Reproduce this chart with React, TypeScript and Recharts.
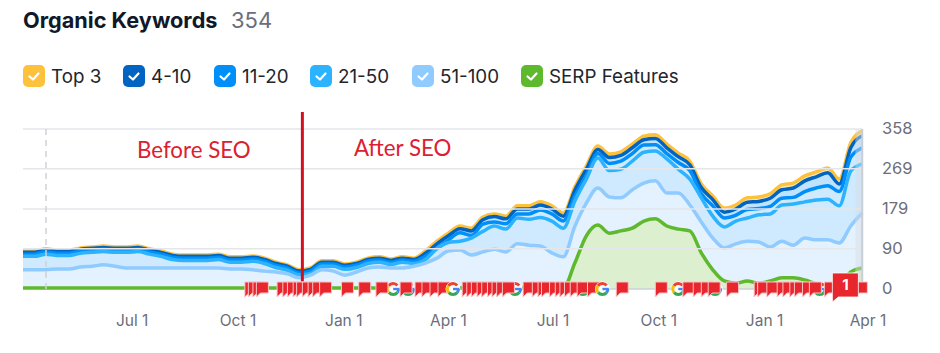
import React from "react";
import { ComposedChart, Area, XAxis, YAxis, ReferenceLine, ReferenceArea, ReferenceDot } from "recharts";

// Sampling: one reading every 10 days across the 730-day window
const stepDays = 10;
const top3Total = [
  85,85,90,87,87,92,94,96,94,94, 96,90,85,78,76,76,76,78,72,72,
  74,69,60,54,43,47,63,63,56,60, 69,72,67,72,69,85,107,125,141,136,
  161,168,163,186,186,195,186,170,228,275, 320,302,307,324,342,345,324,304,286,235,
  208,181,188,204,206,213,233,237,253,262, 271,246,327,354,
];
const pos4to10Total = [
  82,82,87,84,84,89,91,93,91,91, 93,87,82,75,73,73,73,75,69,69,
  71,66,57,51,40,44,60,60,53,57, 66,69,64,69,66,80,101,119,135,130,
  155,162,157,179,179,188,179,163,221,268, 312,294,299,316,334,337,316,296,278,227,
  200,172,179,194,196,203,222,226,242,251, 260,235,316,343,
];
const pos11to20Total = [
  78,78,83,80,80,85,87,89,87,87, 89,83,78,71,69,69,69,71,65,65,
  67,62,53,47,36,40,56,56,49,53, 62,65,60,65,62,73,92,110,126,120,
  145,150,146,168,168,177,168,152,208,253, 303,281,286,303,322,323,303,283,265,213,
  186,159,165,178,180,185,203,205,218,226, 231,218,295,316,
];
const pos21to50Total = [
  73,73,78,75,75,80,82,84,82,82, 84,78,73,66,64,64,64,66,60,60,
  62,57,48,42,32,35,51,51,44,48, 57,60,55,60,57,66,90,104,107,114,
  129,141,134,159,156,160,152,136,197,246, 293,265,268,286,306,309,291,268,246,204,
  163,139,152,159,166,168,188,190,195,199, 201,186,264,280,
];
const pos51to100Total = [
  43,43,43,45,45,49,51,54,51,47, 47,47,47,47,47,47,47,47,45,45,
  43,40,38,34,25,31,43,40,31,38, 47,49,47,47,51,58,69,85,87,76,
  83,89,83,101,98,96,81,72,140,192, 226,206,204,222,237,242,215,215,188,150,
  114,92,101,107,105,94,107,98,114,110, 110,103,141,170,
];
const serpFeatures = [
  2,2,2,2,2,2,2,2,2,2, 2,2,2,2,2,2,2,2,2,2,
  2,2,2,2,2,2,2,2,2,2, 2,2,2,2,2,2,2,2,2,2,
  2,2,2,2,2,2,2,2,58,119, 143,125,130,136,152,157,141,134,130,81,
  43,18,13,18,13,18,25,25,20,11, 4,10,38,47,
];

const yTicks = [0, 90, 179, 269, 358];
const gridValues = [90, 179, 269, 358];
const xTickDays = [95, 187, 279, 370, 461, 553, 645, 735];
const xTickLabels = ["Jul 1", "Oct 1", "Jan 1", "Apr 1", "Jul 1", "Oct 1", "Jan 1", "Apr 1"];
const lastDataDay = 730;
const baselineStartDay = 470;
const seoChangeDay = 243;
const dashedMarkerDay = 20;

const flagDays = [
  193,196,200,203, 221,226,230,235,238,243,248,252,258, 277, 292, 307,
  328,341,347,354,361, 382,386,390,395,399,404,408,412,417,
  435,443,448,451,458,463,467,471,476,482, 491, 516, 550,
  574,583,590,596, 612, 636,639,647,656,661,667,671,678,684, 697, 724,
];
const googleBehindDays = [322, 335, 428, 487, 570, 602, 693];
const googleFrontDays = [374, 504];
const noteDay = 704;
const noteCount = "1";

const legendItems = [
  { name: "Top 3", color: "#fdc13c", left: 23 },
  { name: "4-10", color: "#0065c2", left: 123 },
  { name: "11-20", color: "#008ff8", left: 214 },
  { name: "21-50", color: "#2bb3ff", left: 310 },
  { name: "51-100", color: "#8fcbff", left: 412 },
  { name: "SERP Features", color: "#5fb92c", left: 521 },
];

const rows = top3Total.map((t, i) => ({
  day: i * stepDays,
  b51: pos51to100Total[i],
  b21: pos21to50Total[i] - pos51to100Total[i],
  b11: pos11to20Total[i] - pos21to50Total[i],
  b4: pos4to10Total[i] - pos11to20Total[i],
  t3: t - pos4to10Total[i],
  serp: serpFeatures[i],
}));

const FONT = "Inter, 'Noto Sans', sans-serif";
const GREY = "#6c6e79";

const FlagShape = (p: any) => {
  const x = p.cx;
  const y = p.cy;
  return (
    <path
      d={`M${x},${y - 7} h12 v11 h-8 l-4,4 z`}
      fill="#e8262d"
      stroke="#f9c4c6"
      strokeWidth={1}
    />
  );
};

const GoogleShape = (p: any) => {
  const x = p.cx;
  const y = p.cy;
  const r = 5.5;
  const arc = (a0: number, a1: number, c: string) => {
    const ra = (d: number) => (d * Math.PI) / 180;
    const x0 = x + r * Math.cos(ra(a0));
    const y0 = y + r * Math.sin(ra(a0));
    const x1 = x + r * Math.cos(ra(a1));
    const y1 = y + r * Math.sin(ra(a1));
    return <path d={`M${x0},${y0} A${r},${r} 0 0 1 ${x1},${y1}`} fill="none" stroke={c} strokeWidth={3} />;
  };
  return (
    <g>
      <circle cx={x} cy={y} r={7.5} fill="#fff" />
      {arc(215, 320, "#ea4335")}
      {arc(140, 215, "#fbbc05")}
      {arc(40, 140, "#34a853")}
      {arc(0, 40, "#4285f4")}
      <path d={`M${x},${y} h${r + 1}`} stroke="#4285f4" strokeWidth={2.4} />
    </g>
  );
};

const NoteShape = (p: any) => {
  const x = p.cx;
  const y = p.cy;
  return (
    <g>
      <path d={`M${x},${y - 16} h26 v24 h-20 l-6,5 z`} fill="#e8262d" stroke="#fff" strokeWidth={0.8} />
      <text x={x + 13} y={y + 1} textAnchor="middle" fontFamily={FONT} fontSize={15} fontWeight={700} fill="#fff">
        {noteCount}
      </text>
    </g>
  );
};

const Check = () => (
  <svg width={22} height={22} style={{ display: "block" }}>
    <path d="M6.5 11.5 L10 14.5 L15.5 8.5" fill="none" stroke="#fff" strokeWidth={2.2} strokeLinecap="round" strokeLinejoin="round" />
  </svg>
);

export default function App() {
  return (
    <div style={{ position: "absolute", left: 0, top: 0, width: 940, height: 353, background: "#fff", overflow: "hidden", fontFamily: FONT }}>
      <div style={{ position: "absolute", left: 23, top: 6, fontSize: 21.7, fontWeight: 700, lineHeight: "28px", color: "#111827", whiteSpace: "nowrap" }}>
        Organic Keywords
      </div>
      <div style={{ position: "absolute", left: 231, top: 6, fontSize: 22, lineHeight: "28px", color: GREY }}>354</div>
      {legendItems.map((it) => (
        <div key={it.name} style={{ position: "absolute", left: it.left, top: 65, height: 22, display: "flex", alignItems: "center", whiteSpace: "nowrap" }}>
          <div style={{ width: 22, height: 22, borderRadius: 5, background: it.color }}>
            <Check />
          </div>
          <span style={{ marginLeft: 6, fontSize: 18.8, color: "#22252b" }}>{it.name}</span>
        </div>
      ))}
      <div style={{ position: "absolute", left: 0, top: 0 }}>
        <ComposedChart
          width={940}
          height={353}
          data={rows}
          reverseStackOrder
          margin={{ left: 23, top: 129, right: 0, bottom: 0 }}
        >
          <XAxis
            dataKey="day"
            type="number"
            domain={[0, 735]}
            ticks={xTickDays}
            interval={0}
            tickFormatter={(v: number) => xTickLabels[xTickDays.indexOf(v)]}
            axisLine={false}
            tickLine={false}
            tickSize={0}
            tickMargin={26}
            height={64}
            tick={{ fill: GREY, fontSize: 15.5, fontFamily: FONT }}
          />
          <YAxis
            orientation="right"
            type="number"
            domain={[0, 358]}
            ticks={yTicks}
            interval={0}
            axisLine={false}
            tickLine={false}
            tickSize={0}
            tickMargin={14}
            width={72}
            tick={{ fill: GREY, fontSize: 16.5, fontFamily: FONT, dy: -1 }}
          />
          {gridValues.map((v) => (
            <ReferenceLine key={v} segment={[{ x: 0, y: v }, { x: lastDataDay, y: v }]} stroke="#e4e6ea" strokeWidth={1.5} />
          ))}
          <ReferenceLine segment={[{ x: baselineStartDay, y: 0 }, { x: lastDataDay, y: 0 }]} stroke="#cdd1d6" strokeWidth={1.5} />
          <ReferenceLine x={dashedMarkerDay} stroke="#cfd2d6" strokeWidth={1.5} strokeDasharray="6 5" />
          <Area isAnimationActive={false} type="monotone" dataKey="t3" stackId="kw" stroke="#fdc13c" strokeWidth={3.5} fill="#fde9b8" fillOpacity={1} dot={false} />
          <Area isAnimationActive={false} type="monotone" dataKey="b4" stackId="kw" stroke="#0065c2" strokeWidth={3.5} fill="#bfe2ff" fillOpacity={1} dot={false} />
          <Area isAnimationActive={false} type="monotone" dataKey="b11" stackId="kw" stroke="#008ff8" strokeWidth={3.5} fill="#cfeaff" fillOpacity={1} dot={false} />
          <Area isAnimationActive={false} type="monotone" dataKey="b21" stackId="kw" stroke="#2bb3ff" strokeWidth={3.5} fill="#cfeaff" fillOpacity={1} dot={false} />
          <Area isAnimationActive={false} type="monotone" dataKey="b51" stackId="kw" stroke="#8fcbff" strokeWidth={3.5} fill="#e4f2ff" fillOpacity={1} dot={false} />
          <Area isAnimationActive={false} type="monotone" dataKey="serp" stroke="#5fb92c" strokeWidth={3.5} fill="#dcefcf" fillOpacity={1} dot={false} />
          <ReferenceArea x1={724} x2={lastDataDay} y1={0} y2={358} fill="#d5dbe2" fillOpacity={0.45} stroke="none" />
          <ReferenceLine x={lastDataDay} stroke="#c9ced4" strokeWidth={2} segment={[{ x: lastDataDay, y: 0 }, { x: lastDataDay, y: 358 }]} />
          <ReferenceLine
            segment={[{ x: seoChangeDay, y: 8 }, { x: seoChangeDay, y: 396 }]}
            ifOverflow="visible"
            stroke="#d4101f"
            strokeWidth={3}
          />
          {googleBehindDays.map((d) => (
            <ReferenceDot key={`gb${d}`} x={d} y={0} shape={GoogleShape} />
          ))}
          {flagDays.map((d) => (
            <ReferenceDot key={`f${d}`} x={d} y={0} shape={FlagShape} />
          ))}
          {googleFrontDays.map((d) => (
            <ReferenceDot key={`gf${d}`} x={d} y={0} shape={GoogleShape} />
          ))}
          <ReferenceDot x={noteDay} y={0} shape={NoteShape} />
        </ComposedChart>
      </div>
      <div style={{ position: "absolute", left: 137, top: 136, fontFamily: "Lato, sans-serif", fontSize: 22.3, lineHeight: "28px", color: "#dc2030", whiteSpace: "nowrap" }}>Before SEO</div>
      <div style={{ position: "absolute", left: 354, top: 134, fontFamily: "Lato, sans-serif", fontSize: 22.3, lineHeight: "28px", color: "#dc2030", whiteSpace: "nowrap" }}>After SEO</div>
    </div>
  );
}
